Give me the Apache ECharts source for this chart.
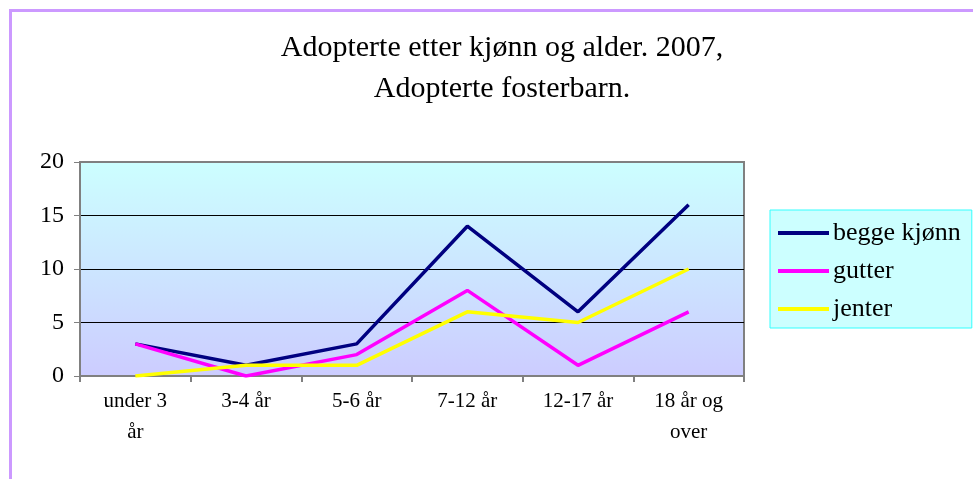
<!DOCTYPE html>
<html>
<head>
<meta charset="utf-8">
<script src="https://cdn.jsdelivr.net/npm/echarts@6/dist/echarts.min.js"></script>
<style>
  html, body { margin: 0; padding: 0; background: #fff; }
  #chart { width: 973px; height: 479px; }
</style>
</head>
<body>
<div id="chart"></div>
<script>
var categories = ['under 3 år', '3-4 år', '5-6 år', '7-12 år', '12-17 år', '18 år og over'];
var beggeKjonn = [3, 1, 3, 14, 6, 16];
var gutter = [3, 0, 2, 8, 1, 6];
var jenter = [0, 1, 1, 6, 5, 10];
var yTicks = { min: 0, max: 20, interval: 5 };

var serif = '"Liberation Serif", "DejaVu Serif", serif';

var chart = echarts.init(document.getElementById('chart'));

function line(name, data, color) {
    return {
        name: name,
        type: 'line',
        data: data,
        symbol: 'none',
        lineStyle: { color: color, width: 3.5 },
        itemStyle: { color: color }
    };
}

// long labels wrap at their last space, like the original
function wrapLabel(v) {
    if (v.length <= 8) return v;
    var i = v.lastIndexOf(' ');
    return v.slice(0, i) + '\n' + v.slice(i + 1);
}

chart.setOption({
    animation: false,
    title: {
        text: 'Adopterte etter kjønn og alder. 2007,\nAdopterte fosterbarn.',
        left: 497,
        top: 23,
        textAlign: 'center',
        textStyle: {
            fontFamily: serif,
            fontSize: 30,
            fontWeight: 'normal',
            color: '#000',
            lineHeight: 41
        }
    },
    graphic: [{
        type: 'rect',
        shape: { x: 10.5, y: 10.5, width: 1200, height: 1200 },
        style: { fill: 'none', stroke: '#CC99FF', lineWidth: 3 },
        silent: true
    }],
    legend: {
        orient: 'vertical',
        left: 770,
        top: 210,
        padding: [10, 11, 6, 8],
        itemGap: 12,
        itemWidth: 51,
        itemHeight: 4,
        icon: 'rect',
        backgroundColor: '#CCFFFF',
        borderColor: '#33FFFF',
        borderWidth: 1,
        textStyle: { fontFamily: serif, fontSize: 26, color: '#000', padding: [0, 0, 0, -1] }
    },
    grid: {
        left: 80,
        right: 229,
        top: 162,
        bottom: 103,
        show: true,
        borderColor: '#808080',
        borderWidth: 2,
        backgroundColor: new echarts.graphic.LinearGradient(0, 0, 0, 1, [
            { offset: 0, color: '#CCFFFF' },
            { offset: 1, color: '#CCCCFF' }
        ])
    },
    xAxis: {
        type: 'category',
        data: categories,
        axisLine: { lineStyle: { color: '#808080', width: 2 } },
        axisTick: { show: true, length: 6, lineStyle: { color: '#808080', width: 2 } },
        axisLabel: {
            interval: 0,
            margin: 10,
            formatter: wrapLabel,
            lineHeight: 31,
            fontFamily: serif,
            fontSize: 21,
            color: '#000'
        }
    },
    yAxis: {
        type: 'value',
        min: yTicks.min,
        max: yTicks.max,
        interval: yTicks.interval,
        axisLine: { show: true, lineStyle: { color: '#808080', width: 2 } },
        axisTick: { show: true, length: 6, lineStyle: { color: '#808080', width: 1 } },
        splitLine: {
            show: true,
            lineStyle: { color: ['#808080', '#000', '#000', '#000', '#808080'], width: 1 }
        },
        axisLabel: {
            margin: 16,
            fontFamily: serif,
            fontSize: 24,
            color: '#000'
        }
    },
    series: [
        line('begge kjønn', beggeKjonn, '#000080'),
        line('gutter', gutter, '#FF00FF'),
        line('jenter', jenter, '#FFFF00')
    ]
});
</script>
</body>
</html>
